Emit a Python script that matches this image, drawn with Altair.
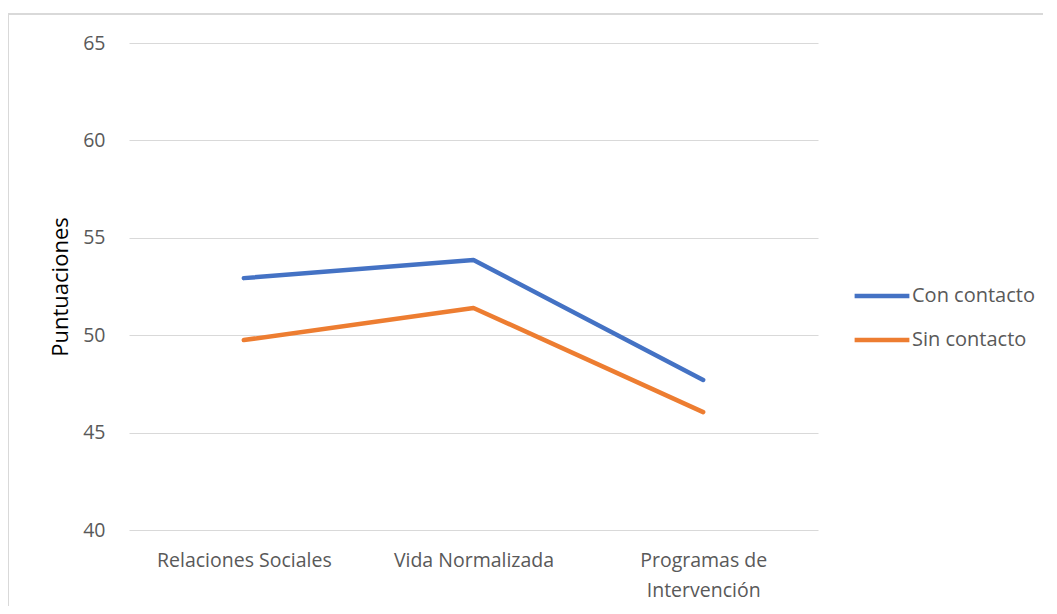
import altair as alt
import pandas as pd

categories = ["Relaciones Sociales", "Vida Normalizada", "Programas de Intervención"]
series_names = ["Con contacto", "Sin contacto"]
con_contacto = [52.93, 53.86, 47.7]
sin_contacto = [49.75, 51.4, 46.05]
colors = ["#4472C4", "#ED7D31"]

rows = []
for c, v in zip(categories, con_contacto):
    rows.append({"Categoria": c, "Serie": series_names[0], "Valor": v})
for c, v in zip(categories, sin_contacto):
    rows.append({"Categoria": c, "Serie": series_names[1], "Valor": v})
df = pd.DataFrame(rows)

FONT = "Open Sans"

lines = alt.Chart(df).mark_line(strokeWidth=4.5, strokeCap="round", strokeJoin="round").encode(
    x=alt.X("Categoria:N", sort=categories, title=None,
            scale=alt.Scale(paddingOuter=0.5, paddingInner=0),
            axis=alt.Axis(labelAngle=0, domain=False, ticks=False, grid=False,
                          labelPadding=21, labelFontSize=19.5, labelColor="#595959",
                          labelFont=FONT, labelLineHeight=30, labelBaseline="top",
                          labelExpr="datum.label == 'Programas de Intervención' ? ['Programas de', 'Intervención'] : datum.label")),
    y=alt.Y("Valor:Q", title="Puntuaciones",
            scale=alt.Scale(domain=[40, 65], nice=False, zero=False),
            axis=alt.Axis(values=[40, 45, 50, 55, 60, 65], domain=False, ticks=False,
                          gridColor="#d9d9d9", gridWidth=1.2, labelPadding=24,
                          labelFontSize=19.5, labelColor="#595959", labelFont=FONT,
                          titleFont=FONT, titleFontSize=22, titleFontWeight="normal",
                          titleColor="#000000", titlePadding=10)),
    color=alt.Color("Serie:N", sort=series_names,
                    scale=alt.Scale(domain=series_names, range=colors),
                    legend=alt.Legend(title=None, orient="none", legendX=723, legendY=223,
                                      symbolType="stroke", symbolSize=3000, symbolStrokeWidth=4.5,
                                      labelFont=FONT, labelFontSize=20, labelColor="#595959",
                                      labelOffset=0, rowPadding=4, symbolOffset=0)),
)

border_top = alt.Chart(df).mark_rule(color="#d9d9d9", strokeWidth=1.5).encode(
    x=alt.value(-121), x2=alt.value(928), y=alt.value(-29))
border_left = alt.Chart(df).mark_rule(color="#d9d9d9", strokeWidth=1.5).encode(
    x=alt.value(-121), y=alt.value(-29), y2=alt.value(571))

chart = alt.layer(border_top, border_left, lines).properties(
    width=689, height=487,
    autosize=alt.AutoSizeParams(type="none"),
    padding={"left": 121, "top": 35, "right": 225, "bottom": 76},
).configure(background="white").configure_view(stroke="transparent", strokeWidth=0)

chart.save("out.html", embed_options={"renderer": "svg", "actions": False})
